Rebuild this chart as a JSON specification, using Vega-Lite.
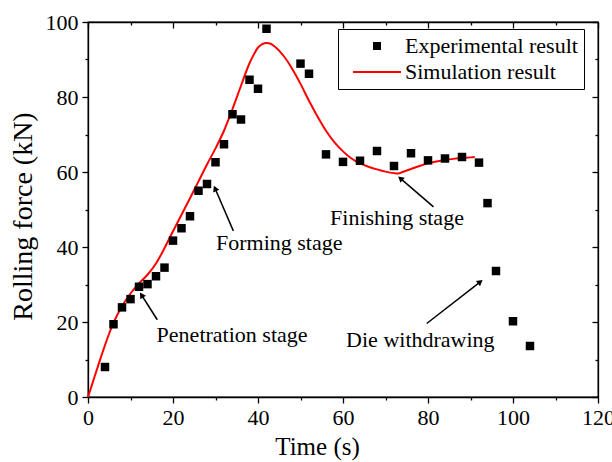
{
  "$schema": "https://vega.github.io/schema/vega-lite/v6.json",
  "width": 510,
  "height": 375,
  "autosize": {"type": "none"},
  "padding": {"left": 88, "top": 22, "right": 14, "bottom": 65},
  "background": "white",
  "config": {
    "font": "Liberation Serif, DejaVu Serif, serif",
    "view": {"stroke": "black", "strokeWidth": 1.3},
    "axis": {
      "grid": false,
      "labelFont": "Liberation Serif, DejaVu Serif, serif",
      "titleFont": "Liberation Serif, DejaVu Serif, serif",
      "labelColor": "black",
      "titleColor": "black",
      "tickColor": "black",
      "domainColor": "black",
      "domainWidth": 1.3,
      "tickWidth": 1.3,
      "labelFontSize": 22,
      "titleFontSize": 25,
      "titleFontWeight": "normal",
      "labelFlush": false
    }
  },
  "datasets": {
    "exp": [
      {"t": 4, "f": 8.0, "series": "Experimental result"},
      {"t": 6, "f": 19.4, "series": "Experimental result"},
      {"t": 8, "f": 23.9, "series": "Experimental result"},
      {"t": 10, "f": 26.1, "series": "Experimental result"},
      {"t": 12, "f": 29.4, "series": "Experimental result"},
      {"t": 14, "f": 30.1, "series": "Experimental result"},
      {"t": 16, "f": 32.2, "series": "Experimental result"},
      {"t": 18, "f": 34.5, "series": "Experimental result"},
      {"t": 20, "f": 41.7, "series": "Experimental result"},
      {"t": 22, "f": 45.0, "series": "Experimental result"},
      {"t": 24, "f": 48.2, "series": "Experimental result"},
      {"t": 26, "f": 55.0, "series": "Experimental result"},
      {"t": 28, "f": 56.8, "series": "Experimental result"},
      {"t": 30, "f": 62.6, "series": "Experimental result"},
      {"t": 32, "f": 67.4, "series": "Experimental result"},
      {"t": 34, "f": 75.4, "series": "Experimental result"},
      {"t": 36, "f": 74.0, "series": "Experimental result"},
      {"t": 38, "f": 84.6, "series": "Experimental result"},
      {"t": 40, "f": 82.2, "series": "Experimental result"},
      {"t": 42, "f": 98.2, "series": "Experimental result"},
      {"t": 50, "f": 88.9, "series": "Experimental result"},
      {"t": 52, "f": 86.2, "series": "Experimental result"},
      {"t": 56, "f": 64.7, "series": "Experimental result"},
      {"t": 60, "f": 62.7, "series": "Experimental result"},
      {"t": 64, "f": 63.0, "series": "Experimental result"},
      {"t": 68, "f": 65.6, "series": "Experimental result"},
      {"t": 72, "f": 61.6, "series": "Experimental result"},
      {"t": 76, "f": 65.0, "series": "Experimental result"},
      {"t": 80, "f": 63.1, "series": "Experimental result"},
      {"t": 84, "f": 63.6, "series": "Experimental result"},
      {"t": 88, "f": 64.0, "series": "Experimental result"},
      {"t": 92, "f": 62.5, "series": "Experimental result"},
      {"t": 94, "f": 51.7, "series": "Experimental result"},
      {"t": 96, "f": 33.6, "series": "Experimental result"},
      {"t": 100, "f": 20.2, "series": "Experimental result"},
      {"t": 104, "f": 13.6, "series": "Experimental result"}
    ],
    "sim": [
      {"t": 0, "f": 0, "series": "Simulation result"},
      {"t": 1, "f": 3.5, "series": "Simulation result"},
      {"t": 2, "f": 7.0, "series": "Simulation result"},
      {"t": 3, "f": 10.5, "series": "Simulation result"},
      {"t": 4, "f": 13.8, "series": "Simulation result"},
      {"t": 5, "f": 17.0, "series": "Simulation result"},
      {"t": 6, "f": 19.8, "series": "Simulation result"},
      {"t": 8, "f": 24.2, "series": "Simulation result"},
      {"t": 10, "f": 27.6, "series": "Simulation result"},
      {"t": 12, "f": 30.3, "series": "Simulation result"},
      {"t": 14, "f": 32.6, "series": "Simulation result"},
      {"t": 16, "f": 35.6, "series": "Simulation result"},
      {"t": 18, "f": 39.7, "series": "Simulation result"},
      {"t": 20, "f": 44.2, "series": "Simulation result"},
      {"t": 22, "f": 48.6, "series": "Simulation result"},
      {"t": 24, "f": 53.0, "series": "Simulation result"},
      {"t": 26, "f": 57.5, "series": "Simulation result"},
      {"t": 28, "f": 62.0, "series": "Simulation result"},
      {"t": 30, "f": 66.3, "series": "Simulation result"},
      {"t": 32, "f": 71.0, "series": "Simulation result"},
      {"t": 34, "f": 76.8, "series": "Simulation result"},
      {"t": 36, "f": 83.0, "series": "Simulation result"},
      {"t": 38, "f": 89.0, "series": "Simulation result"},
      {"t": 39, "f": 91.3, "series": "Simulation result"},
      {"t": 40, "f": 93.2, "series": "Simulation result"},
      {"t": 41, "f": 94.1, "series": "Simulation result"},
      {"t": 42, "f": 94.4, "series": "Simulation result"},
      {"t": 43, "f": 94.2, "series": "Simulation result"},
      {"t": 44, "f": 93.4, "series": "Simulation result"},
      {"t": 46, "f": 91.0, "series": "Simulation result"},
      {"t": 48, "f": 87.6, "series": "Simulation result"},
      {"t": 50, "f": 83.5, "series": "Simulation result"},
      {"t": 52, "f": 79.0, "series": "Simulation result"},
      {"t": 54, "f": 74.8, "series": "Simulation result"},
      {"t": 56, "f": 71.0, "series": "Simulation result"},
      {"t": 58, "f": 67.9, "series": "Simulation result"},
      {"t": 60, "f": 65.5, "series": "Simulation result"},
      {"t": 62, "f": 63.6, "series": "Simulation result"},
      {"t": 64, "f": 62.3, "series": "Simulation result"},
      {"t": 66, "f": 61.4, "series": "Simulation result"},
      {"t": 68, "f": 60.7, "series": "Simulation result"},
      {"t": 70, "f": 60.1, "series": "Simulation result"},
      {"t": 72, "f": 59.7, "series": "Simulation result"},
      {"t": 73, "f": 59.6, "series": "Simulation result"},
      {"t": 74, "f": 60.0, "series": "Simulation result"},
      {"t": 76, "f": 60.8, "series": "Simulation result"},
      {"t": 78, "f": 61.6, "series": "Simulation result"},
      {"t": 80, "f": 62.3, "series": "Simulation result"},
      {"t": 82, "f": 62.8, "series": "Simulation result"},
      {"t": 84, "f": 63.2, "series": "Simulation result"},
      {"t": 86, "f": 63.5, "series": "Simulation result"},
      {"t": 88, "f": 63.7, "series": "Simulation result"},
      {"t": 90, "f": 63.9, "series": "Simulation result"},
      {"t": 91, "f": 64.0, "series": "Simulation result"}
    ],
    "arrows": [
      {"x0": 16.3, "y0": 20.6, "x1": 12.6, "y1": 27.2},
      {"x0": 34.2, "y0": 44.3, "x1": 29.9, "y1": 55.6},
      {"x0": 81.3, "y0": 50.7, "x1": 73.5, "y1": 58.3},
      {"x0": 79.7, "y0": 19.6, "x1": 92.3, "y1": 30.7}
    ],
    "notes": [
      {"x": 33.9, "y": 16.5, "label": "Penetration stage"},
      {"x": 45.0, "y": 41.0, "label": "Forming stage"},
      {"x": 72.7, "y": 47.7, "label": "Finishing stage"},
      {"x": 78.2, "y": 15.2, "label": "Die withdrawing"}
    ]
  },
  "layer": [
    {
      "data": {"name": "sim"},
      "mark": {"type": "line", "interpolate": "monotone", "strokeWidth": 2},
      "encoding": {
        "x": {
          "field": "t", "type": "quantitative",
          "scale": {"domain": [0, 120], "nice": false, "zero": false},
          "axis": {
            "orient": "bottom", "title": "Time (s)", "titleFontSize": 25, "titleX": 229,
            "values": [0, 10, 20, 30, 40, 50, 60, 70, 80, 90, 100, 110, 120],
            "labelExpr": "datum.value % 20 === 0 ? datum.label : ''",
            "tickSize": {"condition": {"test": "datum.value % 20 === 0", "value": 6}, "value": 3},
            "labelPadding": 4, "titlePadding": 6, "labelOverlap": false
          }
        },
        "y": {
          "field": "f", "type": "quantitative",
          "scale": {"domain": [0, 100], "nice": false, "zero": false},
          "axis": {
            "orient": "left", "title": "Rolling force (kN)", "titleFontSize": 28, "titleY": 194,
            "values": [0, 10, 20, 30, 40, 50, 60, 70, 80, 90, 100],
            "labelExpr": "datum.value % 20 === 0 ? datum.label : ''",
            "tickSize": {"condition": {"test": "datum.value % 20 === 0", "value": 6}, "value": 3},
            "labelPadding": 4, "titlePadding": 8, "labelOverlap": false
          }
        },
        "color": {
          "field": "series", "type": "nominal",
          "scale": {"domain": ["Experimental result", "Simulation result"], "range": ["black", "red"]},
          "legend": {
            "title": null, "orient": "none", "legendX": 250, "legendY": 7,
            "strokeColor": "black", "padding": 6,
            "labelFontSize": 22, "labelFont": "Liberation Serif, DejaVu Serif, serif", "labelColor": "black", "labelLimit": 400,
            "symbolSize": 64, "labelOffset": 17, "symbolOffset": 22, "rowPadding": 4,
            "encode": {"symbols": {"update": {
              "fill": {"signal": "datum.value === 'Simulation result' ? 'transparent' : 'black'"},
              "stroke": {"signal": "datum.value === 'Simulation result' ? 'red' : 'black'"},
              "strokeWidth": {"signal": "datum.value === 'Simulation result' ? 2 : 0"},
              "opacity": {"value": 1}
            }}}
          }
        }
      }
    },
    {
      "data": {"name": "exp"},
      "mark": {"type": "point", "filled": true, "size": 72, "opacity": 1},
      "encoding": {
        "x": {
          "field": "t", "type": "quantitative",
          "axis": {
            "orient": "top", "title": null, "labels": false,
            "values": [0, 10, 20, 30, 40, 50, 60, 70, 80, 90, 100, 110, 120],
            "tickSize": {"condition": {"test": "datum.value % 20 === 0", "value": -6}, "value": -3}
          }
        },
        "y": {
          "field": "f", "type": "quantitative",
          "axis": {
            "orient": "right", "title": null, "labels": false,
            "values": [0, 10, 20, 30, 40, 50, 60, 70, 80, 90, 100],
            "tickSize": {"condition": {"test": "datum.value % 20 === 0", "value": -6}, "value": -3}
          }
        },
        "color": {
          "field": "series", "type": "nominal",
          "legend": {
            "title": null, "orient": "none", "legendX": 250, "legendY": 7,
            "strokeColor": "black", "padding": 6,
            "labelFontSize": 22, "labelFont": "Liberation Serif, DejaVu Serif, serif", "labelColor": "black", "labelLimit": 400,
            "symbolSize": 64, "labelOffset": 17, "symbolOffset": 22, "rowPadding": 4,
            "encode": {"symbols": {"update": {
              "fill": {"signal": "datum.value === 'Simulation result' ? 'transparent' : 'black'"},
              "stroke": {"signal": "datum.value === 'Simulation result' ? 'red' : 'black'"},
              "strokeWidth": {"signal": "datum.value === 'Simulation result' ? 2 : 0"},
              "opacity": {"value": 1}
            }}}
          }
        },
        "shape": {
          "field": "series", "type": "nominal",
          "scale": {"domain": ["Experimental result", "Simulation result"], "range": ["square", "M-6,0H6"]},
          "legend": {
            "title": null, "orient": "none", "legendX": 250, "legendY": 7,
            "strokeColor": "black", "padding": 6,
            "labelFontSize": 22, "labelFont": "Liberation Serif, DejaVu Serif, serif", "labelColor": "black", "labelLimit": 400,
            "symbolSize": 64, "labelOffset": 17, "symbolOffset": 22, "rowPadding": 4,
            "encode": {"symbols": {"update": {
              "fill": {"signal": "datum.value === 'Simulation result' ? 'transparent' : 'black'"},
              "stroke": {"signal": "datum.value === 'Simulation result' ? 'red' : 'black'"},
              "strokeWidth": {"signal": "datum.value === 'Simulation result' ? 2 : 0"},
              "opacity": {"value": 1}
            }}}
          }
        }
      }
    },
    {
      "data": {"name": "arrows"},
      "mark": {"type": "rule", "color": "black", "strokeWidth": 1.5},
      "encoding": {
        "x": {"field": "x0", "type": "quantitative", "axis": null},
        "y": {"field": "y0", "type": "quantitative", "axis": null},
        "x2": {"field": "x1"},
        "y2": {"field": "y1"}
      }
    },
    {
      "data": {"name": "arrows"},
      "mark": {
        "type": "point", "shape": "triangle-up", "filled": true, "color": "black", "opacity": 1, "size": 45,
        "angle": {"expr": "atan2(scale('x', datum.x1) - scale('x', datum.x0), scale('y', datum.y0) - scale('y', datum.y1)) * 180 / PI"}
      },
      "encoding": {
        "x": {"field": "x1", "type": "quantitative", "axis": null},
        "y": {"field": "y1", "type": "quantitative", "axis": null}
      }
    },
    {
      "data": {"name": "notes"},
      "mark": {"type": "text", "font": "Liberation Serif, DejaVu Serif, serif", "fontSize": 22, "color": "black", "align": "center", "baseline": "middle"},
      "encoding": {
        "x": {"field": "x", "type": "quantitative", "axis": null},
        "y": {"field": "y", "type": "quantitative", "axis": null},
        "text": {"field": "label"}
      }
    }
  ],
  "resolve": {"axis": {"x": "independent", "y": "independent"}}
}
